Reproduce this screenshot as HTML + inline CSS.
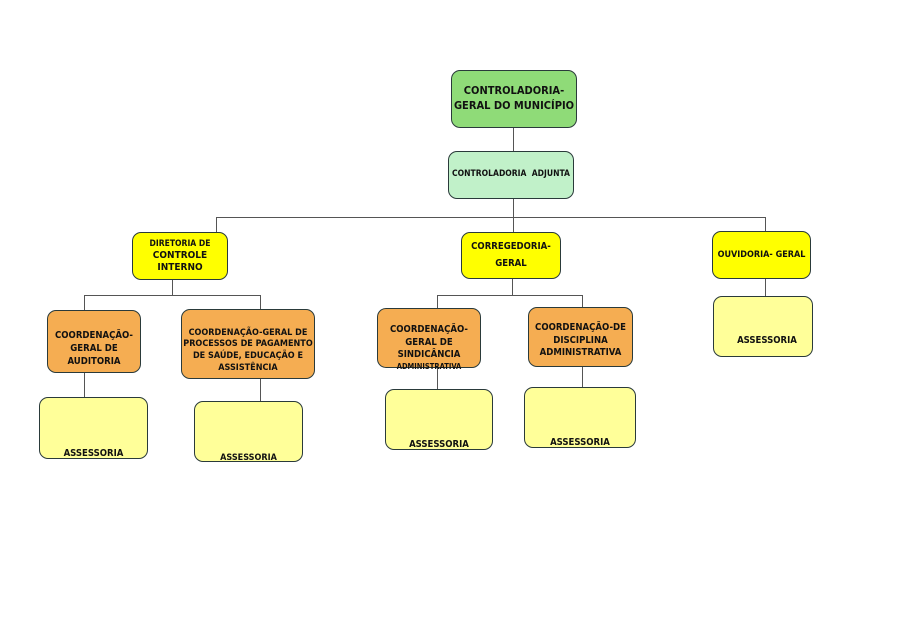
<!DOCTYPE html>
<html><head><meta charset="utf-8"><style>
body{margin:0;width:900px;height:637px;background:#fff;position:relative;overflow:hidden;font-family:"DejaVu Sans Condensed","DejaVu Sans","Liberation Sans",sans-serif;font-stretch:condensed;font-weight:bold;color:#111}
.b{position:absolute;box-sizing:border-box;border:1.5px solid #2a3a3a;border-radius:9px;display:flex;align-items:center;justify-content:center;text-align:center;line-height:1.35;white-space:nowrap}
.l{position:absolute;background:#555}
.g{background:#8fdb78}.a{background:#c1f1c9}.y{background:#ffff00}.o{background:#f5ad52}.p{background:#ffff99}
.s{align-items:flex-end;padding-bottom:0;font-size:9.5px}
.s div{position:relative;top:3px}
</style></head><body>
<div class="l" style="left:513px;top:128px;width:1px;height:23px"></div>
<div class="l" style="left:513px;top:199px;width:1px;height:33px"></div>
<div class="l" style="left:216px;top:217px;width:550px;height:1px"></div>
<div class="l" style="left:216px;top:217px;width:1px;height:15px"></div>
<div class="l" style="left:765px;top:217px;width:1px;height:14px"></div>
<div class="l" style="left:172px;top:280px;width:1px;height:15px"></div>
<div class="l" style="left:84px;top:295px;width:177px;height:1px"></div>
<div class="l" style="left:84px;top:295px;width:1px;height:15px"></div>
<div class="l" style="left:260px;top:295px;width:1px;height:14px"></div>
<div class="l" style="left:84px;top:373px;width:1px;height:24px"></div>
<div class="l" style="left:260px;top:379px;width:1px;height:22px"></div>
<div class="l" style="left:512px;top:279px;width:1px;height:16px"></div>
<div class="l" style="left:437px;top:295px;width:146px;height:1px"></div>
<div class="l" style="left:437px;top:295px;width:1px;height:13px"></div>
<div class="l" style="left:582px;top:295px;width:1px;height:12px"></div>
<div class="l" style="left:437px;top:368px;width:1px;height:21px"></div>
<div class="l" style="left:582px;top:367px;width:1px;height:20px"></div>
<div class="l" style="left:765px;top:279px;width:1px;height:17px"></div>

<div class="b g" style="left:451px;top:70px;width:126px;height:58px;font-size:11px"><div>CONTROLADORIA-<br>GERAL DO MUNICÍPIO</div></div>
<div class="b a" style="left:448px;top:151px;width:126px;height:48px;font-size:8.5px"><div>CONTROLADORIA&nbsp; ADJUNTA</div></div>
<div class="b y" style="left:132px;top:232px;width:96px;height:48px;font-size:10px;line-height:1.2"><div><span style="font-size:8.5px">DIRETORIA DE</span><br>CONTROLE<br>INTERNO</div></div>
<div class="b y" style="left:461px;top:232px;width:100px;height:47px;font-size:9.5px;line-height:1.7"><div>CORREGEDORIA-<br>GERAL</div></div>
<div class="b y" style="left:712px;top:231px;width:99px;height:48px;font-size:9px"><div>OUVIDORIA- GERAL</div></div>
<div class="b o" style="left:47px;top:310px;width:94px;height:63px;font-size:9.5px;padding-top:16px"><div>COORDENAÇÃO-<br>GERAL DE<br>AUDITORIA</div></div>
<div class="b o" style="left:181px;top:309px;width:134px;height:70px;font-size:9px;line-height:1.3;padding-top:14px"><div>COORDENAÇÃO-GERAL DE<br>PROCESSOS DE PAGAMENTO<br>DE SAÚDE, EDUCAÇÃO E<br>ASSISTÊNCIA</div></div>
<div class="b o" style="left:377px;top:308px;width:104px;height:60px;font-size:9.5px;line-height:1.3;padding-top:22px"><div>COORDENAÇÃO-<br>GERAL DE<br>SINDICÂNCIA<br><span style="font-size:7.5px">ADMINISTRATIVA</span></div></div>
<div class="b o" style="left:528px;top:307px;width:105px;height:60px;font-size:9.5px;line-height:1.3;padding-top:8px"><div>COORDENAÇÃO-DE<br>DISCIPLINA<br>ADMINISTRATIVA</div></div>
<div class="b p s" style="left:39px;top:397px;width:109px;height:62px"><div>ASSESSORIA</div></div>
<div class="b p s" style="left:194px;top:401px;width:109px;height:61px;font-size:9px"><div>ASSESSORIA</div></div>
<div class="b p s" style="left:385px;top:389px;width:108px;height:61px"><div>ASSESSORIA</div></div>
<div class="b p s" style="left:524px;top:387px;width:112px;height:61px"><div>ASSESSORIA</div></div>
<div class="b p" style="left:713px;top:296px;width:100px;height:61px;font-size:9.5px;padding-left:8px;padding-top:38px;align-items:flex-start"><div>ASSESSORIA</div></div>
</body></html>
